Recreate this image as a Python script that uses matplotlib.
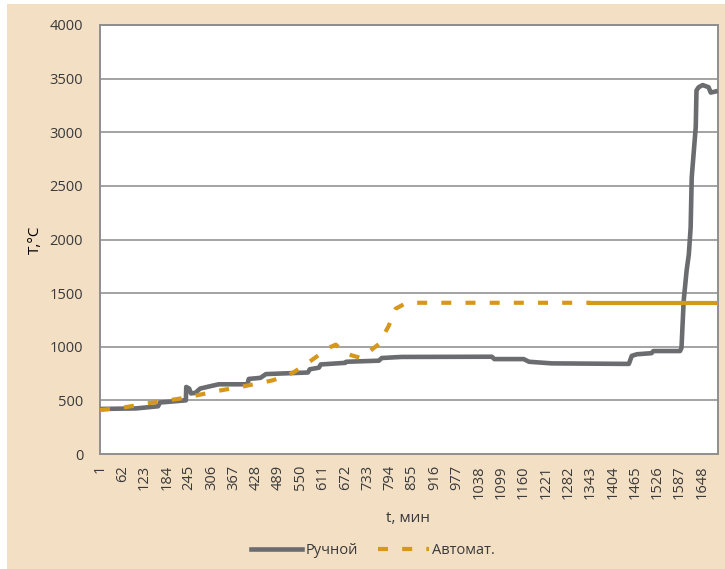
"""Furnace temperature vs time: manual control against the automatic regime."""
import numpy as np
import matplotlib
matplotlib.use("Agg")
import matplotlib.pyplot as plt  # noqa: E402
from matplotlib.patches import Rectangle  # noqa: E402

# manual control, breakpoints (minute, °C)
MANUAL_T_MIN = [1, 100, 160, 165, 235, 236, 237, 245, 250, 262, 275, 300, 326,
                400, 405, 408, 440, 455, 570, 575, 600, 605, 672, 675, 764,
                772, 826, 1073, 1080, 1160, 1175, 1237, 1448, 1456, 1470,
                1510, 1515, 1588, 1592, 1598, 1606, 1612, 1617, 1620, 1631,
                1633, 1639, 1650, 1666, 1672, 1685]
MANUAL_TEMP = [420, 425, 445, 480, 500, 500, 625, 610, 565, 570, 610, 630, 650,
               650, 655, 700, 710, 745, 760, 790, 805, 835, 850, 860, 870,
               895, 905, 907, 885, 885, 860, 845, 840, 915, 930,
               940, 960, 960, 990, 1430, 1710, 1860, 2110, 2580, 3050,
               3390, 3420, 3440, 3420, 3370, 3380]

# automatic regime: ramp part (dashed) and holding part (solid)
AUTO_RAMP_MIN = [1, 60, 127, 217, 263, 326, 400, 471, 490, 530, 564, 627, 646,
                 674, 715, 764, 791, 810, 840, 1343]
AUTO_RAMP_TEMP = [410, 430, 470, 515, 545, 590, 635, 685, 705, 760, 835, 990,
                  1020, 935, 895, 1025, 1195, 1355, 1410, 1410]
AUTO_HOLD_MIN = [1343, 1690]
AUTO_HOLD_TEMP = [1410, 1410]

N_POINTS = 1690
XTICKS = list(range(1, N_POINTS + 1, 61))
YTICKS = [0, 500, 1000, 1500, 2000, 2500, 3000, 3500, 4000]

BEIGE = "#F2DFC4"
GREY = "#6B6C70"
ORANGE = "#D6981C"

plt.rcParams["font.family"] = ["Open Sans", "DejaVu Sans"]
plt.rcParams["font.size"] = 11
plt.rcParams["text.color"] = "#3A3A3A"


def main():
    fig = plt.figure(figsize=(7.25, 5.69), dpi=100, facecolor="white")
    fig.add_artist(Rectangle((7 / 725, 0), 1, 1 - 4 / 569, transform=fig.transFigure,
                             facecolor=BEIGE, edgecolor="none", zorder=-10))
    ax = fig.add_axes([99.8 / 725, 1 - 454 / 569, (717.5 - 99.8) / 725, (454 - 25) / 569])
    ax.set_facecolor("white")

    for y in YTICKS[1:]:
        ax.axhline(y, color="#9C9C9C", lw=1.3, zorder=1)

    ax.plot(MANUAL_T_MIN, MANUAL_TEMP, color=GREY, lw=3.3, solid_joinstyle="round",
            zorder=3, label="Ручной")
    ax.plot(AUTO_RAMP_MIN, AUTO_RAMP_TEMP, color=ORANGE, lw=3,
            linestyle=(0, (2.4, 3.4)), zorder=4, label="Автомат.")
    ax.plot(AUTO_HOLD_MIN, AUTO_HOLD_TEMP, color=ORANGE, lw=3, zorder=4)

    ax.set_xlim(0.5, N_POINTS + 0.5)
    ax.set_ylim(0, 4000)
    ax.set_xticks(XTICKS)
    ax.set_xticklabels([str(v) for v in XTICKS], rotation=90, va="top", ha="center")
    ax.set_yticks(YTICKS)
    ax.tick_params(axis="both", length=0, colors="#3A3A3A", labelsize=10.5)
    ax.tick_params(axis="y", pad=12)
    ax.tick_params(axis="x", pad=8)
    for s in ax.spines.values():
        s.set_color("#8E8E8E")
        s.set_linewidth(1.4)

    ax.set_ylabel("T,°C", labelpad=5)
    fig.text(408 / 725, 1 - 519 / 569, "t, мин", ha="center", va="center")

    fig.legend(loc="center", bbox_to_anchor=(373 / 725, 1 - 551 / 569), ncol=2,
               frameon=False, handlelength=3.5, handletextpad=0.2, columnspacing=1.4,
               fontsize=10.5)

    fig.savefig("out.png", dpi=100, facecolor=fig.get_facecolor())


if __name__ == "__main__":
    main()
